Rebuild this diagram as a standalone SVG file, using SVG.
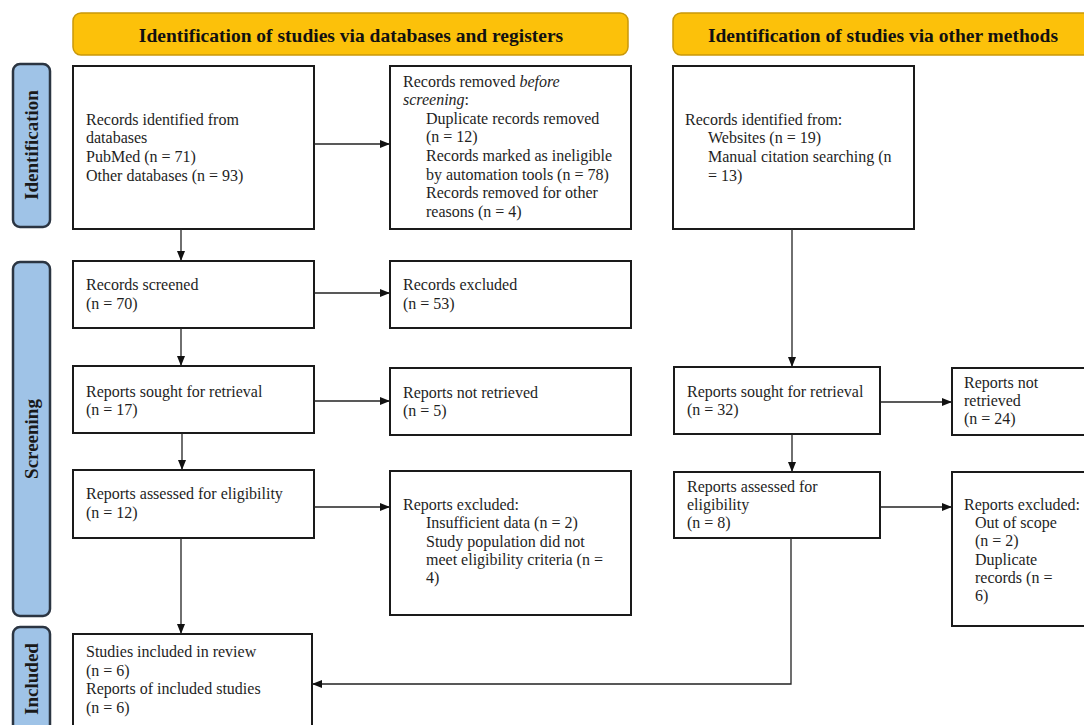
<svg xmlns="http://www.w3.org/2000/svg" width="1084" height="725" viewBox="0 0 1084 725">
<style>
.hdr{fill:#fcc10a;stroke:#c9980a;stroke-width:1.5}
.side{fill:#9fc3e7;stroke:#2b3542;stroke-width:2.5}
.box{fill:#fff;stroke:#1a1a1a;stroke-width:2}
.ht{font-family:"Liberation Serif",serif;font-weight:bold;font-size:19.5px;fill:#111}
.st{font-family:"Liberation Serif",serif;font-weight:bold;font-size:19px;fill:#1a1a1a}
.t{font-family:"Liberation Serif",serif;font-size:16px;fill:#1e1e1e}
.c{fill:none;stroke:#222;stroke-width:1.3}
</style>
<defs>
<marker id="ah" viewBox="0 0 10 10" refX="10" refY="5" markerWidth="10" markerHeight="10" markerUnits="userSpaceOnUse" orient="auto">
<path d="M0,1 L10,5 L0,9 Z" fill="#111"/>
</marker>
</defs>
<rect width="1084" height="725" fill="#fff"/>
<g id="header1"><rect class="hdr" x="73" y="13" width="555" height="42" rx="8"/><text class="ht" x="351" y="42" text-anchor="middle">Identification of studies via databases and registers</text></g>
<g id="header2"><rect class="hdr" x="673" y="13" width="425" height="42" rx="8"/><text class="ht" x="883" y="42" text-anchor="middle">Identification of studies via other methods</text></g>
<g id="side-identification"><rect class="side" x="13" y="64" width="37" height="163" rx="7"/><text class="st" transform="translate(38,145) rotate(-90)" text-anchor="middle">Identification</text></g>
<g id="side-screening"><rect class="side" x="13" y="262" width="37" height="354" rx="7"/><text class="st" transform="translate(38,439) rotate(-90)" text-anchor="middle">Screening</text></g>
<g id="side-included"><rect class="side" x="13" y="627" width="37" height="110" rx="7"/><text class="st" transform="translate(38,679) rotate(-90)" text-anchor="middle">Included</text></g>

<g id="box-identified-db"><rect class="box" x="73" y="66" width="241" height="163"/>
<text class="t" x="86" y="125">Records identified from</text>
<text class="t" x="86" y="143">databases</text>
<text class="t" x="86" y="162">PubMed (n = 71)</text>
<text class="t" x="86" y="181">Other databases (n = 93)</text></g>

<g id="box-removed"><rect class="box" x="390" y="66" width="241" height="163"/>
<text class="t" x="403" y="87">Records removed <tspan font-style="italic">before</tspan></text>
<text class="t" x="403" y="105" font-style="italic">screening<tspan font-style="normal">:</tspan></text>
<text class="t" x="426" y="124">Duplicate records removed</text>
<text class="t" x="426" y="142">(n = 12)</text>
<text class="t" x="426" y="161">Records marked as ineligible</text>
<text class="t" x="426" y="180">by automation tools (n = 78)</text>
<text class="t" x="426" y="198">Records removed for other</text>
<text class="t" x="426" y="217">reasons (n = 4)</text></g>

<g id="box-identified-other"><rect class="box" x="673" y="66" width="241" height="163"/>
<text class="t" x="685" y="125">Records identified from:</text>
<text class="t" x="708" y="143">Websites (n = 19)</text>
<text class="t" x="708" y="162">Manual citation searching (n</text>
<text class="t" x="708" y="181">= 13)</text></g>

<g id="box-screened"><rect class="box" x="73" y="261" width="241" height="67"/>
<text class="t" x="86" y="290">Records screened</text>
<text class="t" x="86" y="309">(n = 70)</text></g>

<g id="box-excluded"><rect class="box" x="390" y="261" width="241" height="67"/>
<text class="t" x="403" y="290">Records excluded</text>
<text class="t" x="403" y="309">(n = 53)</text></g>

<g id="box-sought-db"><rect class="box" x="73" y="366" width="241" height="67"/>
<text class="t" x="86" y="397">Reports sought for retrieval</text>
<text class="t" x="86" y="415">(n = 17)</text></g>

<g id="box-notretrieved-db"><rect class="box" x="390" y="368" width="241" height="67"/>
<text class="t" x="403" y="398">Reports not retrieved</text>
<text class="t" x="403" y="416">(n = 5)</text></g>

<g id="box-sought-other"><rect class="box" x="674" y="367" width="206" height="67"/>
<text class="t" x="687" y="397">Reports sought for retrieval</text>
<text class="t" x="687" y="415">(n = 32)</text></g>

<g id="box-notretrieved-other"><rect class="box" x="952" y="368" width="140" height="67"/>
<text class="t" x="964" y="388">Reports not</text>
<text class="t" x="964" y="406">retrieved</text>
<text class="t" x="964" y="424">(n = 24)</text></g>

<g id="box-assessed-db"><rect class="box" x="73" y="470" width="241" height="68"/>
<text class="t" x="86" y="499">Reports assessed for eligibility</text>
<text class="t" x="86" y="518">(n = 12)</text></g>

<g id="box-reportsexcl-db"><rect class="box" x="390" y="471" width="241" height="144"/>
<text class="t" x="403" y="510">Reports excluded:</text>
<text class="t" x="426" y="528">Insufficient data (n = 2)</text>
<text class="t" x="426" y="547">Study population did not</text>
<text class="t" x="426" y="565">meet eligibility criteria (n =</text>
<text class="t" x="426" y="583">4)</text></g>

<g id="box-assessed-other"><rect class="box" x="674" y="472" width="206" height="66"/>
<text class="t" x="687" y="492">Reports assessed for</text>
<text class="t" x="687" y="510">eligibility</text>
<text class="t" x="687" y="528">(n = 8)</text></g>

<g id="box-reportsexcl-other"><rect class="box" x="952" y="472" width="140" height="154"/>
<text class="t" x="964" y="510">Reports excluded:</text>
<text class="t" x="975" y="528">Out of scope</text>
<text class="t" x="975" y="546">(n = 2)</text>
<text class="t" x="975" y="565">Duplicate</text>
<text class="t" x="975" y="583">records (n =</text>
<text class="t" x="975" y="601">6)</text></g>

<g id="box-included"><rect class="box" x="73" y="634" width="239" height="100"/>
<text class="t" x="86" y="657">Studies included in review</text>
<text class="t" x="86" y="676">(n = 6)</text>
<text class="t" x="86" y="694">Reports of included studies</text>
<text class="t" x="86" y="713">(n = 6)</text></g>

<g id="connectors">
<path class="c" d="M314,144 H390" marker-end="url(#ah)"/>
<path class="c" d="M181,229 V261" marker-end="url(#ah)"/>
<path class="c" d="M314,293 H390" marker-end="url(#ah)"/>
<path class="c" d="M181,328 V366" marker-end="url(#ah)"/>
<path class="c" d="M314,401 H390" marker-end="url(#ah)"/>
<path class="c" d="M182,433 V470" marker-end="url(#ah)"/>
<path class="c" d="M314,507 H390" marker-end="url(#ah)"/>
<path class="c" d="M181,538 V634" marker-end="url(#ah)"/>
<path class="c" d="M792,229 V367" marker-end="url(#ah)"/>
<path class="c" d="M880,402 H952" marker-end="url(#ah)"/>
<path class="c" d="M792,434 V472" marker-end="url(#ah)"/>
<path class="c" d="M880,507 H952" marker-end="url(#ah)"/>
<path class="c" d="M791,538 V684 H312" marker-end="url(#ah)"/>
</g>
</svg>
